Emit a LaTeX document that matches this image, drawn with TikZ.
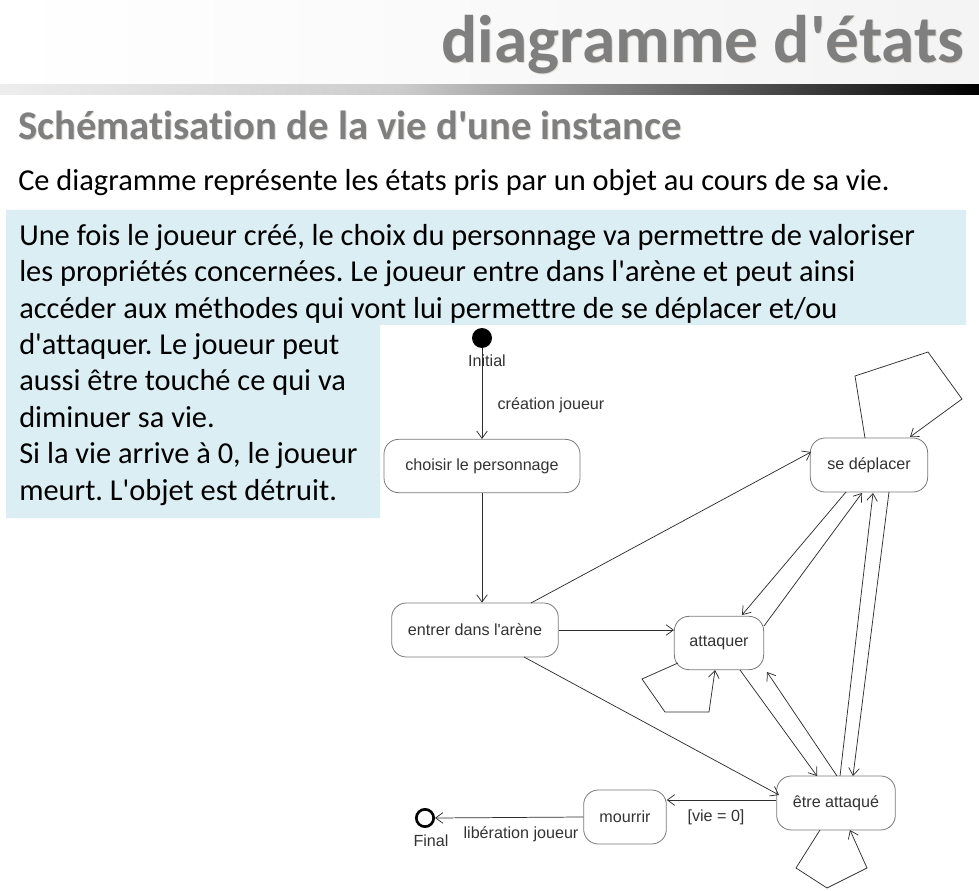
\documentclass[tikz,border=0pt]{standalone}
\usepackage{fontspec}
\setmainfont{Carlito}[Ligatures={TeXOff,NoCommon}]
\newfontfamily\diagfont{Liberation Sans}
\usetikzlibrary{arrows.meta,calc}
\frenchspacing
\definecolor{headgray}{HTML}{7F7F7F}
\definecolor{shadowgray}{HTML}{E2DDD6}
\definecolor{notebg}{HTML}{DBEEF4}
\definecolor{linegray}{HTML}{2E2E2E}
\definecolor{boxgray}{HTML}{7A7A7A}
\definecolor{labelgray}{HTML}{333333}
\tikzset{
  x=0.75pt, y=-0.75pt,
  bodytext/.style={anchor=base west, inner sep=0pt, font=\fontsize{22.8}{27}\selectfont},
  state/.style={draw=boxgray, line width=0.6pt, rounded corners=11pt, fill=white,
    text=labelgray, font=\diagfont\fontsize{12.1}{14}\selectfont, inner sep=0pt},
  lbl/.style={text=labelgray, font=\diagfont\fontsize{12.1}{14}\selectfont, inner sep=0pt},
  trans/.style={draw=linegray, line width=0.55pt, -{Straight Barb[length=5.5pt,width=8pt,line width=0.55pt]}},
}
\begin{document}
\begin{tikzpicture}
\useasboundingbox (0,0) rectangle (979,891);
\fill[white] (0,0) rectangle (979,891);

% header band and its gradient rule
\shade[left color=white, right color=gray!9] (0,0) rectangle (979,85);
\shade[left color=gray!14, right color=gray!40] (0,85) rectangle (400,95);
\shade[left color=gray!40, right color=black] (400,85) rectangle (979,95);

% title
\node[anchor=base east, inner sep=0pt, text=shadowgray, font=\bfseries\fontsize{50.5}{55}\selectfont] at (966,64) {diagramme d'états};
\node (title) [anchor=base east, inner sep=0pt, text=headgray, font=\bfseries\fontsize{50.5}{55}\selectfont] at (965,63) {diagramme d'états};

% subtitle and intro
\node[anchor=base west, inner sep=0pt, text=shadowgray, font=\bfseries\fontsize{30.5}{35}\selectfont] at (19,141) {Schématisation de la vie d'une instance};
\node (subtitle) [anchor=base west, inner sep=0pt, text=headgray, font=\bfseries\fontsize{30.5}{35}\selectfont] at (18,140) {Schématisation de la vie d'une instance};
\node (intro) [bodytext] at (18,191) {Ce diagramme représente les états pris par un objet au cours de sa vie.};

% note panel
\fill[notebg] (6,210) -- (966,210) -- (966,325) -- (380,325) -- (380,518) -- (6,518) -- cycle;
\node (n1) [bodytext] at (19,246) {Une fois le joueur créé, le choix du personnage va permettre de valoriser};
\node (n2) [bodytext] at (19,282) {les propriétés concernées. Le joueur entre dans l'arène et peut ainsi};
\node (n3) [bodytext] at (19,319) {accéder aux méthodes qui vont lui permettre de se déplacer et/ou};
\node (n4) [bodytext] at (19,355) {d'attaquer. Le joueur peut};
\node (n5) [bodytext] at (19,391) {aussi être touché ce qui va};
\node (n6) [bodytext] at (19,428) {diminuer sa vie.};
\node (n7) [bodytext] at (19,464) {Si la vie arrive à 0, le joueur};
\node (n8) [bodytext] at (19,500) {meurt. L'objet est détruit.};

% states
\node (I) [circle, fill=black, minimum size=15pt, inner sep=0pt] at (482,338) {};
\node (Ilbl) [lbl] at (487,361) {Initial};
\node (C) [state, minimum width=147pt, minimum height=40pt] at (482,466) {choisir le personnage};
\node (E) [state, minimum width=125pt, minimum height=40.5pt] at (475,630) {entrer dans l'arène};
\node (A) [state, minimum width=67pt, minimum height=40pt] at (719,643) {attaquer};
\node (S) [state, minimum width=88pt, minimum height=40.5pt] at (869,465) {se déplacer};
\node (T) [state, minimum width=89pt, minimum height=40.5pt] at (836,803) {être attaqué};
\node (M) [state, minimum width=62pt, minimum height=40.5pt] at (625,817) {mourrir};
\node (F) [circle, draw=black, line width=2pt, minimum size=13pt, inner sep=0pt] at (425,818) {};
\node (Flbl) [lbl] at (431,841) {Final};

% transitions
\draw[trans] (I) -- (C.north);
\node (cj) [lbl] at (551,405) {création joueur};
\draw[trans] (C.south) -- (C.south |- E.north);
\draw[trans] ($(E)+(56,-27)$) -- ($(S)+(-58,-13)$);
\draw[trans] (E.east) -- (E.east -| A.west);
\draw[trans] ($(E)+(49,27)$) -- ($(T)+(-57,-8)$);
\draw[trans] ($(S)+(-23,27)$) -- ($(A)+(23,-28)$);
\draw[trans] ($(A)+(45,-17)$) -- ($(S)+(-7,28)$);
\draw[trans] ($(S)+(20,27)$) -- ($(T)+(17,-27)$);
\draw[trans] ($(T)+(4,-27)$) -- ($(S)+(4,28)$);
\draw[trans] ($(A)+(21,27)$) -- ($(T)+(-19,-27)$);
\draw[trans] ($(T)+(1,-27)$) -- ($(A)+(48,29)$);
\draw[trans] ($(T.west)+(0,-3)$) -- ($(M.east)+(0,-17)$);
\node (guard) [lbl] at (716,817) {[vie = 0]};
\draw[trans] (M.west) -- (F.east);
\node (lj) [lbl] at (521,834) {libération joueur};

% self transitions
\draw[trans] ($(S)+(-4,-27)$) -- ($(S)+(-14,-89)$) -- ($(S)+(59,-113)$) -- ($(S)+(93,-66)$) -- ($(S)+(41,-28)$);
\draw[trans] ($(A)+(-41,20)$) -- ($(A)+(-77,36)$) -- ($(A)+(-54,69)$) -- ($(A)+(-10,69)$) -- ($(A)+(-4,27)$);
\draw[trans] ($(T)+(-16,27)$) -- ($(T)+(-40,65)$) -- ($(T)+(-9,85)$) -- ($(T)+(31,65)$) -- ($(T)+(14,27)$);
\end{tikzpicture}
\end{document}
